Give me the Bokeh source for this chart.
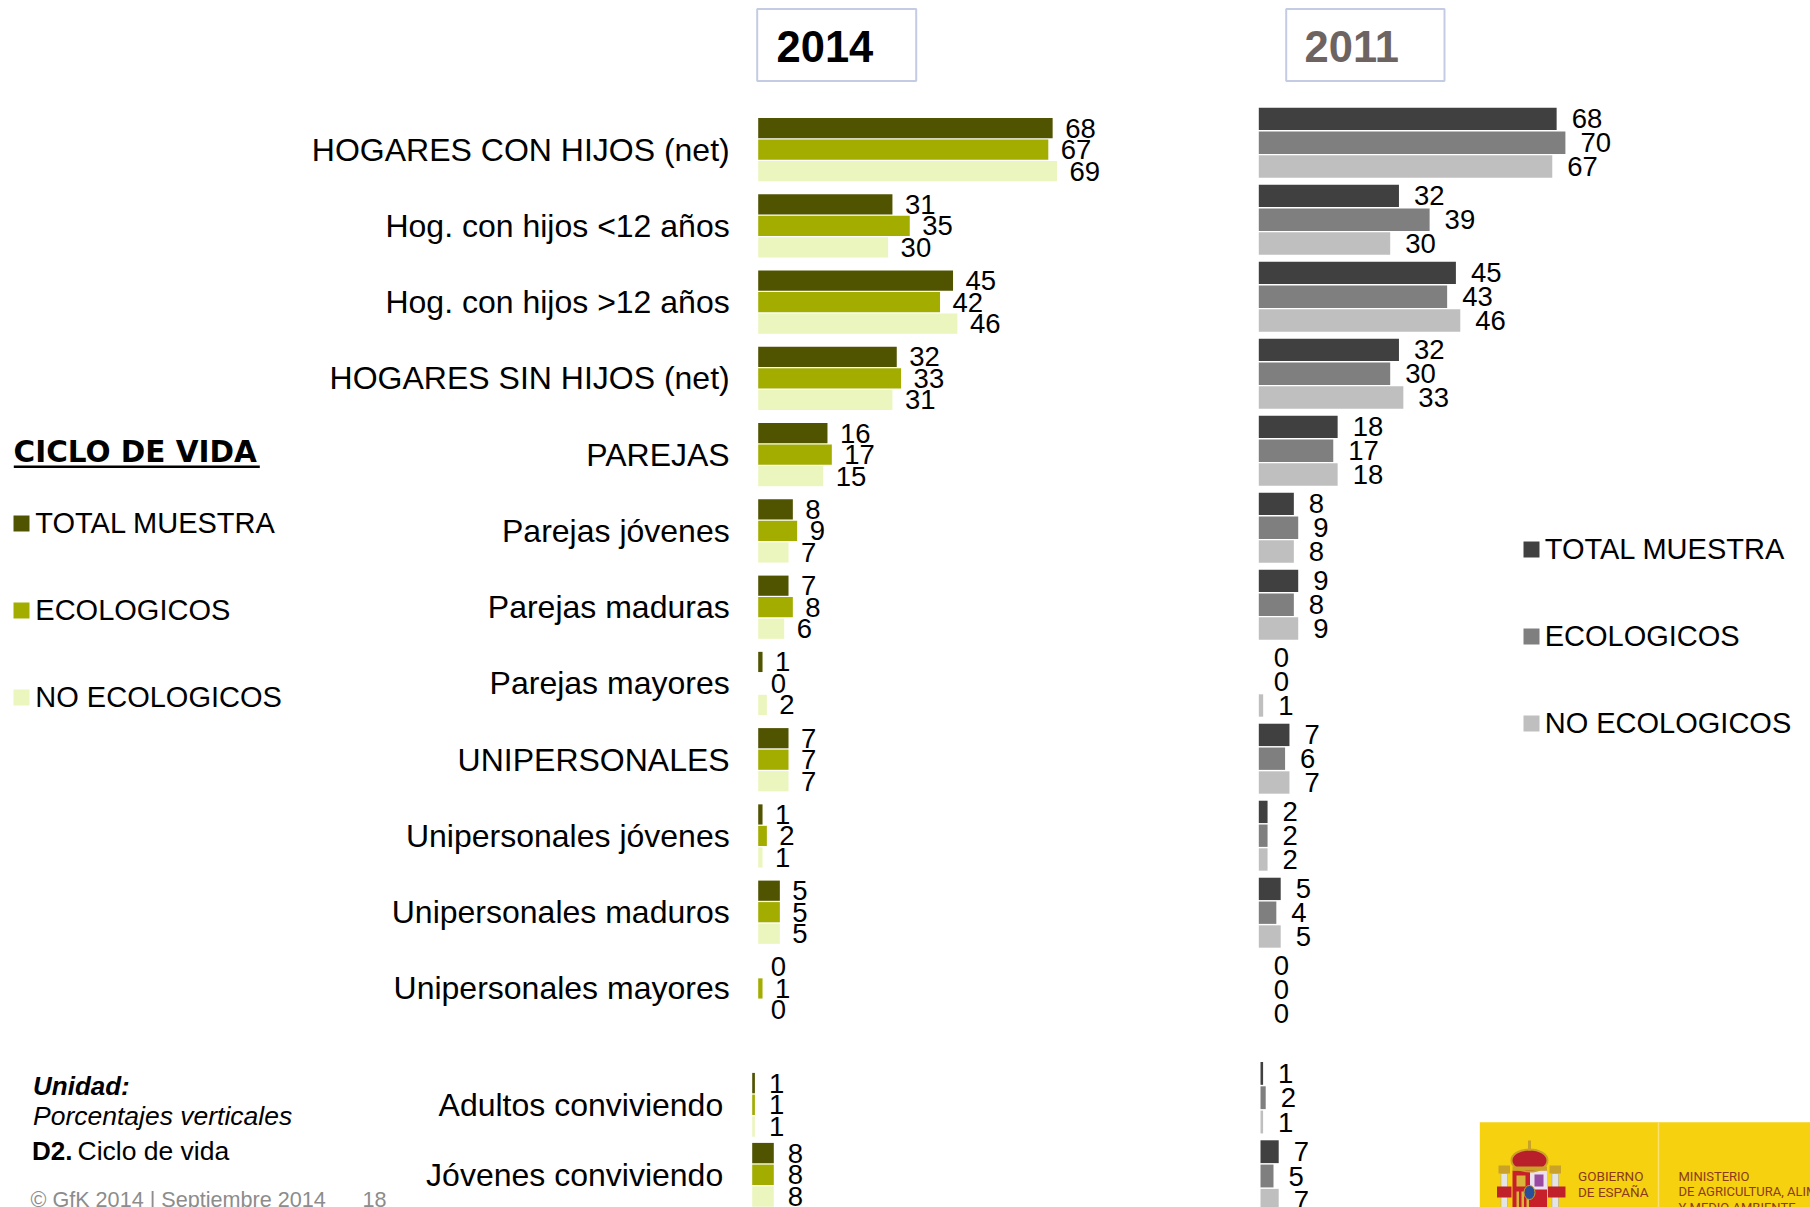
from bokeh.plotting import figure
from bokeh.models import Range1d, ColumnDataSource, Legend, LegendItem
from bokeh.transform import dodge
from bokeh.core.properties import value
from bokeh.embed import file_html
from bokeh.resources import INLINE

# ---------------- data ----------------
categories = ["HOGARES CON HIJOS (net)", "Hog. con hijos <12 años", "Hog. con hijos >12 años",
              "HOGARES SIN HIJOS (net)", "PAREJAS", "Parejas jóvenes", "Parejas maduras",
              "Parejas mayores", "UNIPERSONALES", "Unipersonales jóvenes",
              "Unipersonales maduros", "Unipersonales mayores"]
categories_extra = ["Adultos conviviendo", "Jóvenes conviviendo"]
series = ["TOTAL MUESTRA", "ECOLOGICOS", "NO ECOLOGICOS"]

total_2014 = [68, 31, 45, 32, 16, 8, 7, 1, 7, 1, 5, 0]
eco_2014 = [67, 35, 42, 33, 17, 9, 8, 0, 7, 2, 5, 1]
noeco_2014 = [69, 30, 46, 31, 15, 7, 6, 2, 7, 1, 5, 0]

total_2011 = [68, 32, 45, 32, 18, 8, 9, 0, 7, 2, 5, 0]
eco_2011 = [70, 39, 43, 30, 17, 9, 8, 0, 6, 2, 4, 0]
noeco_2011 = [67, 30, 46, 33, 18, 8, 9, 1, 7, 2, 5, 0]

total_2014_extra = [1, 8]
eco_2014_extra = [1, 8]
noeco_2014_extra = [1, 8]

total_2011_extra = [1, 7]
eco_2011_extra = [2, 5]
noeco_2011_extra = [1, 7]

colors_2014 = ["#505400", "#a2ad00", "#ebf5be"]
colors_2011 = ["#404040", "#7f7f7f", "#bfbfbf"]

# ---------------- canvas ----------------
W, H = 1810, 1207
FONT_NAME = "Liberation Sans"
FONT = value(FONT_NAME)

p = figure(width=W, height=H, x_range=Range1d(0, W), y_range=Range1d(H, 0),
           x_axis_type=None, y_axis_type=None, output_backend="svg",
           toolbar_location=None, min_border=0, outline_line_color=None)
p.grid.visible = False


def x_range_for(zero_px, px_per_unit):
    return Range1d(start=-zero_px / px_per_unit, end=(W - zero_px) / px_per_unit)


def y_range_for(first_px, px_per_idx):
    return Range1d(start=(H - first_px) / px_per_idx, end=-first_px / px_per_idx)


panels = [
    # name, categories, values, colors, zero px, px/unit, first center, period, bar step, label gap, cat offset
    ("t14", categories, [total_2014, eco_2014, noeco_2014], colors_2014, 757.7, 4.33, 149.2, 76.25, 21.5, 12.5, -28.5),
    ("t11", categories, [total_2011, eco_2011, noeco_2011], colors_2011, 1258.3, 4.38, 142.2, 77.0, 23.8, 15.0, None),
    ("b14", categories_extra, [total_2014_extra, eco_2014_extra, noeco_2014_extra], colors_2014, 751.7, 2.7, 1104.3, 70.0, 21.7, 14.0, -29.0),
    ("b11", categories_extra, [total_2011_extra, eco_2011_extra, noeco_2011_extra], colors_2011, 1260.0, 2.6, 1097.2, 78.3, 24.3, 15.0, None),
]

legend_renderers = {}
for name, cats, vals, cols, zero, ppu, first, period, step, gap, catoff in panels:
    p.extra_x_ranges[name] = x_range_for(zero, ppu)
    p.extra_y_ranges[name] = y_range_for(first, period)
    data = dict(idx=list(range(len(cats))), cat=cats)
    keys = ["total", "eco", "noeco"]
    for k, v in zip(keys, vals):
        data[k] = v
        data[k + "_lbl"] = [str(x) for x in v]
    src = ColumnDataSource(data)
    s = step / period
    rends = []
    for j, (k, c) in enumerate(zip(keys, cols)):
        r = p.hbar(y=dodge("idx", (j - 1) * s), left=0, right=k, height=s * 0.94,
                   fill_color=c, line_color=None, source=src,
                   x_range_name=name, y_range_name=name)
        rends.append(r)
        p.text(x=k, y=dodge("idx", (j - 1) * s), text=k + "_lbl", source=src,
               x_offset=gap, text_align="left", text_baseline="middle",
               text_font=FONT, text_font_size="27.5px", text_color="black",
               x_range_name=name, y_range_name=name)
    if catoff is not None:
        p.text(x=0, y="idx", text="cat", source=src, x_offset=catoff,
               text_align="right", text_baseline="middle", text_font=FONT,
               text_font_size="32px", text_color="black",
               x_range_name=name, y_range_name=name)
    legend_renderers[name] = rends

# ---------------- year boxes ----------------
p.quad(left=[756.7, 1285.7], right=[915.7, 1444.0], top=[8.5, 8.5], bottom=[80.5, 80.5],
       fill_color=None, line_color="#c3cce2", line_width=2)
p.text(x=[776.0, 1304.0], y=[45.8, 45.8], text=["2014", "2011"], text_font=FONT,
       text_font_style="bold", text_font_size="43.5px", text_color=["#000000", "#6d6461"],
       text_baseline="middle")

# ---------------- left title + legends ----------------
p.text(x=[13.0], y=[451.2], text=["CICLO DE VIDA"], text_font=value("DejaVu Sans"),
       text_font_style="bold", text_font_size="29.5px", text_baseline="middle")
p.segment(x0=[13.3], x1=[259.3], y0=[466.3], y1=[466.3], line_color="black", line_width=2.6)

leg_common = dict(orientation="vertical", glyph_width=20, glyph_height=20, label_standoff=4,
                  label_text_font=FONT_NAME, label_text_font_size="29px", label_height=33,
                  label_text_color="black",
                  padding=0, margin=0, border_line_color=None, background_fill_alpha=0)
p.add_layout(Legend(items=[LegendItem(label=s, renderers=[r]) for s, r in zip(series, legend_renderers["t14"])],
                    location=(11.3, H - 713.5), spacing=54, **leg_common), "center")
p.add_layout(Legend(items=[LegendItem(label=s, renderers=[r]) for s, r in zip(series, legend_renderers["t11"])],
                    location=(1520.7, H - 739.5), spacing=54, **leg_common), "center")

# ---------------- footer ----------------
p.text(x=[32.5], y=[1085.7], text=["Unidad:"], text_font=FONT, text_font_style="bold italic",
       text_font_size="26px", text_baseline="middle")
p.text(x=[32.5], y=[1115.2], text=["Porcentajes verticales"], text_font=FONT, text_font_style="italic",
       text_font_size="26.5px", text_baseline="middle")
p.text(x=[31.5], y=[1150.7], text=["D2."], text_font=FONT, text_font_style="bold",
       text_font_size="26px", text_baseline="middle")
p.text(x=[77.0], y=[1150.7], text=["Ciclo de vida"], text_font=FONT,
       text_font_size="26.5px", text_baseline="middle")
p.text(x=[30.0, 362.0], y=[1199.4, 1199.4], text=["© GfK 2014 | Septiembre 2014", "18"], text_font=FONT,
       text_font_size="21.6px", text_color="#8c8c8c", text_baseline="middle")

# ---------------- logo ----------------
p.quad(left=[1479.3], right=[W], top=[1121.7], bottom=[H], fill_color="#f6d10f", line_color=None)
p.segment(x0=[1658], x1=[1658], y0=[1121.7], y1=[H], line_color="#f9e070", line_width=1.5)
# crest (simplified)
p.quad(left=[1500.5, 1551.5], right=[1507, 1558], top=[1173, 1173], bottom=[H, H],
       fill_color="#e4e4e4", line_color="#a0a0a0", line_width=0.5)
p.quad(left=[1498, 1549], right=[1509.5, 1560.5], top=[1165, 1165], bottom=[1173, 1173],
       fill_color="#c9a227", line_color=None)
p.quad(left=[1512], right=[1546.5], top=[1170], bottom=[H], fill_color="#c8202a", line_color=None)
p.quad(left=[1529.5], right=[1546.5], top=[1170], bottom=[1189], fill_color="#ece0ee", line_color=None)
p.quad(left=[1534], right=[1543], top=[1174], bottom=[1186], fill_color="#9a4aa0", line_color=None)
p.quad(left=[1516], right=[1525], top=[1175], bottom=[1186], fill_color="#d9b63a", line_color=None)
p.quad(left=[1516, 1521, 1526], right=[1518.5, 1523.5, 1528.5], top=[1191, 1191, 1191], bottom=[H, H, H],
       fill_color="#d9b63a", line_color=None)
p.ellipse(x=[1529], y=[1192], width=[11], height=[14], fill_color="#2c4f9a", line_color="#c9a227", line_width=1)
p.ellipse(x=[1529], y=[1160], width=[36], height=[22], fill_color="#b81f2b", line_color="#c9a227", line_width=2)
p.quad(left=[1512], right=[1546.5], top=[1166], bottom=[1170], fill_color="#c9a227", line_color=None)
p.segment(x0=[1529], x1=[1529], y0=[1140], y1=[1150], line_color="#c9a227", line_width=3)
p.quad(left=[1496.5, 1547.5], right=[1511, 1565], top=[1186, 1186], bottom=[1197, 1197],
       fill_color="#c0202a", line_color=None)
p.text(x=[1577.5, 1577.5], y=[1175.5, 1191.2], text=["GOBIERNO", "DE ESPAÑA"],
       text_font=value("Roboto"), text_font_size="13.5px", text_color="#8a3a1e",
       text_baseline="middle")
p.text(x=[1678.0, 1678.0, 1678.0], y=[1175.5, 1191.2, 1206.9],
       text=["MINISTERIO", "DE AGRICULTURA, ALIMENTACIÓN", "Y MEDIO AMBIENTE"],
       text_font=value("Roboto"), text_font_size="13px", text_color="#8a3a1e",
       text_baseline="middle")

open("out.html", "w").write(file_html(p, INLINE))
